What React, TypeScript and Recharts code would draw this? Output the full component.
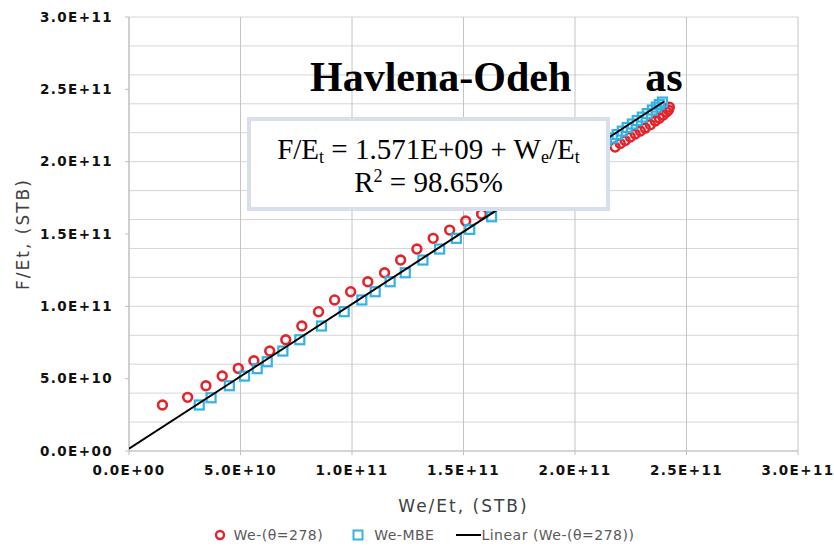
import React from "react";
import {
  ScatterChart,
  Scatter,
  XAxis,
  YAxis,
  CartesianGrid,
  Legend,
} from "recharts";

// Havlena-Odeh plot: F/Et against We/Et for two aquifer influx estimates
const RED_NAME = "We-(θ=278)";
const BLUE_NAME = "We-MBE";
const TREND_NAME = "Linear (We-(θ=278))";

const redWeEt = [
  1.5e10, 2.63e10, 3.45e10, 4.18e10, 4.9e10, 5.6e10, 6.31e10, 7.03e10, 7.75e10, 8.5e10,
  9.22e10, 9.94e10, 10.71e10, 11.46e10, 12.18e10, 12.91e10, 13.64e10, 14.38e10, 15.1e10, 15.81e10,
  16.5e10, 17.2e10, 17.9e10, 18.6e10, 19.3e10, 20.0e10, 20.7e10, 21.3e10,
  21.8e10, 22.03e10, 22.25e10, 22.48e10, 22.7e10, 22.93e10, 23.15e10, 23.38e10, 23.6e10,
  23.78e10, 23.96e10, 24.1e10, 24.19e10, 24.23e10,
];
const redFEt = [
  3.18e10, 3.71e10, 4.51e10, 5.18e10, 5.71e10, 6.24e10, 6.91e10, 7.69e10, 8.64e10, 9.63e10,
  10.44e10, 11.01e10, 11.7e10, 12.32e10, 13.2e10, 13.96e10, 14.7e10, 15.27e10, 15.9e10, 16.38e10,
  17.0e10, 17.6e10, 18.2e10, 18.8e10, 19.4e10, 19.9e10, 20.3e10, 20.7e10,
  21.01e10, 21.25e10, 21.46e10, 21.7e10, 21.91e10, 22.12e10, 22.32e10, 22.56e10, 22.81e10,
  23.01e10, 23.22e10, 23.43e10, 23.57e10, 23.77e10,
];

const blueWeEt = [
  3.15e10, 3.68e10, 4.5e10, 5.18e10, 5.75e10, 6.2e10, 6.9e10, 7.66e10, 8.63e10, 9.65e10,
  10.44e10, 11.04e10, 11.71e10, 12.39e10, 13.18e10, 13.93e10, 14.68e10, 15.28e10, 16.26e10,
  17.0e10, 17.8e10, 18.6e10, 19.4e10, 20.2e10, 20.9e10, 21.4e10,
  21.67e10, 21.89e10, 22.12e10, 22.34e10, 22.57e10, 22.79e10, 23.02e10, 23.24e10, 23.47e10,
  23.65e10, 23.78e10, 23.92e10,
];
const blueFEt = [
  3.18e10, 3.68e10, 4.51e10, 5.18e10, 5.69e10, 6.17e10, 6.91e10, 7.69e10, 8.64e10, 9.63e10,
  10.44e10, 11.01e10, 11.7e10, 12.32e10, 13.2e10, 13.96e10, 14.7e10, 15.32e10, 16.19e10,
  17.0e10, 17.8e10, 18.6e10, 19.4e10, 20.2e10, 20.9e10, 21.4e10,
  21.63e10, 21.87e10, 22.11e10, 22.36e10, 22.6e10, 22.84e10, 23.08e10, 23.32e10, 23.57e10,
  23.77e10, 23.95e10, 24.12e10,
];

// Fitted trend: F/Et = 1.571E+09 + We/Et
const TREND_INTERCEPT = 1.571e9;
const TREND_SLOPE = 1;
const trendWeEt = [0, 2.4e11];

const axisTicks = [0, 5e10, 1e11, 1.5e11, 2e11, 2.5e11, 3e11];
const minorY = Array.from({ length: 31 }, (_, i) => i * 1e10);

const redData = redWeEt.map((x, i) => ({ x, y: redFEt[i] }));
const blueData = blueWeEt.map((x, i) => ({ x, y: blueFEt[i] }));
const trendData = trendWeEt.map((x) => ({ x, y: TREND_INTERCEPT + TREND_SLOPE * x }));

const RED = "#e2252d";
const BLUE = "#34b2e4";

const sci = (v: number) => {
  const [m, e] = v.toExponential(1).split("e");
  const sign = e[0] === "-" ? "-" : "+";
  const digits = e.replace(/[+-]/, "").padStart(2, "0");
  return `${m}E${sign}${digits}`;
};

const tickStyle = {
  fontFamily: "DejaVu Sans",
  fontSize: 13.5,
  fontWeight: 700,
  letterSpacing: 1.4,
  fill: "#111",
};

const CircleMark = (p: any) => (
  <circle cx={p.cx} cy={p.cy} r={4.4} fill="none" stroke={RED} strokeWidth={2.6} />
);
const SquareMark = (p: any) => (
  <rect x={p.cx - 4.5} y={p.cy - 4.5} width={9} height={9} fill="none" stroke={BLUE} strokeWidth={2.2} />
);
const NoMark = () => <g />;

const LegendContent = () => (
  <div
    style={{
      display: "flex",
      justifyContent: "center",
      alignItems: "center",
      height: 42,
      paddingLeft: 14,
      fontFamily: "DejaVu Sans",
      fontSize: 14,
      letterSpacing: 0.5,
      color: "#595959",
    }}
  >
    <svg width={12} height={12} style={{ marginRight: 8 }}>
      <circle cx={6} cy={6} r={4} fill="none" stroke={RED} strokeWidth={2.4} />
    </svg>
    <span style={{ marginRight: 29 }}>{RED_NAME}</span>
    <svg width={12} height={12} style={{ marginRight: 10 }}>
      <rect x={1.5} y={1.5} width={9} height={9} fill="none" stroke={BLUE} strokeWidth={2} />
    </svg>
    <span style={{ marginRight: 22 }}>{BLUE_NAME}</span>
    <svg width={25} height={12}>
      <line x1={0} y1={6} x2={25} y2={6} stroke="#000" strokeWidth={2} />
    </svg>
    <span>{TREND_NAME}</span>
  </div>
);

export default function App() {
  return (
    <div style={{ position: "absolute", left: 0, top: 0, width: 834, height: 556, background: "#fff" }}>
      <ScatterChart
        width={834}
        height={556}
        margin={{ top: 17, right: 36, bottom: 0, left: 0 }}
      >
        <CartesianGrid
          horizontalValues={minorY}
          vertical={false}
          stroke="#d6d6d6"
          strokeWidth={1}
        />
        <CartesianGrid
          horizontal={false}
          verticalValues={axisTicks}
          stroke="#c4c4c4"
          strokeWidth={1}
        />
        <XAxis
          type="number"
          dataKey="x"
          domain={[0, 3e11]}
          ticks={axisTicks}
          tickFormatter={sci}
          tick={tickStyle}
          tickSize={4}
          tickMargin={10}
          height={63}
          axisLine={{ stroke: "#bfbfbf" }}
          tickLine={{ stroke: "#bfbfbf" }}
          allowDataOverflow
          label={{
            value: "We/Et, (STB)",
            position: "insideBottom",
            offset: 2,
            style: {
              fontFamily: "DejaVu Sans",
              fontSize: 17,
              letterSpacing: 2,
              fill: "#404040",
            },
          }}
        />
        <YAxis
          type="number"
          dataKey="y"
          domain={[0, 3e11]}
          ticks={axisTicks}
          tickFormatter={sci}
          tick={tickStyle}
          tickSize={4}
          tickMargin={12}
          width={129}
          axisLine={{ stroke: "#bfbfbf" }}
          tickLine={{ stroke: "#bfbfbf" }}
          allowDataOverflow
          label={{
            value: "F/Et, (STB)",
            angle: -90,
            position: "insideLeft",
            offset: 23,
            style: {
              textAnchor: "middle",
              fontFamily: "DejaVu Sans",
              fontSize: 17,
              letterSpacing: 2,
              fill: "#404040",
            },
          }}
        />
        <Legend
          verticalAlign="bottom"
          content={LegendContent}
          wrapperStyle={{ left: 0, bottom: 0, width: 834, height: 42 }}
        />
        <Scatter
          name={RED_NAME}
          data={redData}
          shape={CircleMark}
          isAnimationActive={false}
        />
        <Scatter
          name={BLUE_NAME}
          data={blueData}
          shape={SquareMark}
          isAnimationActive={false}
        />
        <Scatter
          name={TREND_NAME}
          data={trendData}
          shape={NoMark}
          line={{ stroke: "#000", strokeWidth: 2 }}
          isAnimationActive={false}
        />
      </ScatterChart>

      <div
        style={{
          position: "absolute",
          left: 310,
          top: 56,
          fontFamily: "Liberation Serif",
          fontWeight: 700,
          fontSize: 42,
          lineHeight: "42px",
          color: "#000",
          whiteSpace: "pre",
        }}
      >
        Havlena-Odeh<span style={{ marginLeft: 74 }}>as</span>
      </div>

      <div
        style={{
          position: "absolute",
          left: 247,
          top: 117,
          width: 363,
          height: 94,
          boxSizing: "border-box",
          border: "4px solid #d6dfeb",
          background: "#fff",
          fontFamily: "Liberation Serif",
          fontSize: 29,
          color: "#000",
          textAlign: "center",
          lineHeight: "33px",
          paddingTop: 12,
        }}
      >
        <div>
          F/E<sub style={{ fontSize: 18, verticalAlign: -4, lineHeight: 0 }}>t</sub> = 1.571E+09 + W
          <sub style={{ fontSize: 18, verticalAlign: -4, lineHeight: 0 }}>e</sub>/E
          <sub style={{ fontSize: 18, verticalAlign: -4, lineHeight: 0 }}>t</sub>
        </div>
        <div>
          R<sup style={{ fontSize: 18, verticalAlign: 10, lineHeight: 0 }}>2</sup> = 98.65%
        </div>
      </div>
    </div>
  );
}
